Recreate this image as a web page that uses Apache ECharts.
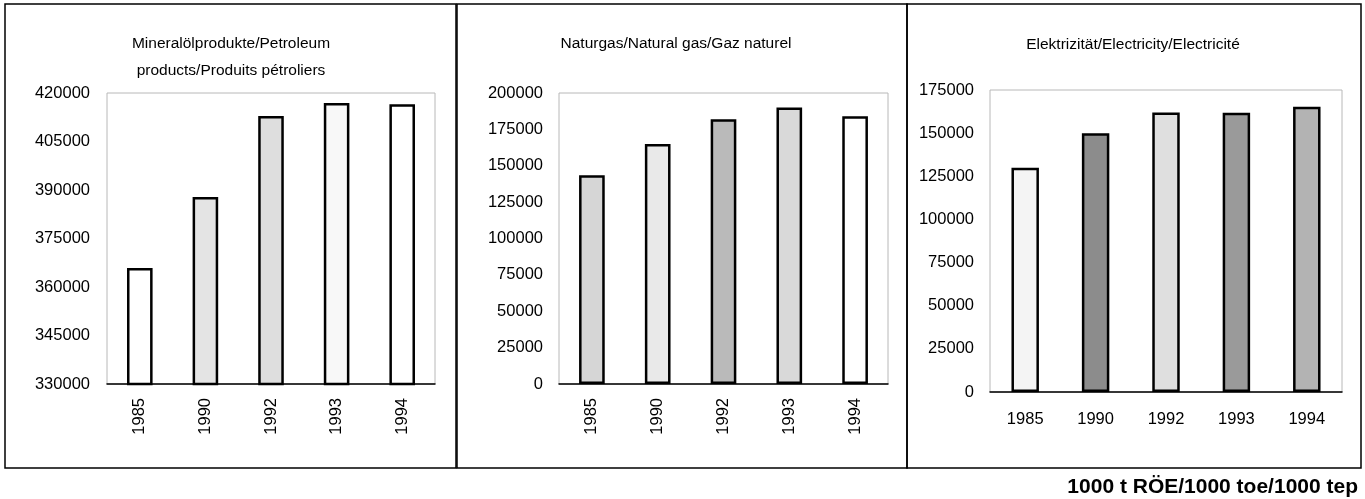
<!DOCTYPE html>
<html>
<head>
<meta charset="utf-8">
<script src="https://cdn.jsdelivr.net/npm/echarts@6/dist/echarts.min.js"></script>
<style>
  html, body { margin: 0; padding: 0; background: #fff; }
  #chart { width: 1365px; height: 499px; }
</style>
</head>
<body>
<div id="chart"></div>
<script>
// categories and values (1000 t RÖE)
const years = ['1985', '1990', '1992', '1993', '1994']
const petroleum = [365900, 387800, 412900, 416900, 416500]
const naturalGas = [143500, 165000, 182000, 190000, 184000]
const electricity = [130000, 150000, 162000, 161800, 165300]

const titles = [
  'Mineralölprodukte/Petroleum\nproducts/Produits pétroliers',
  'Naturgas/Natural gas/Gaz naturel',
  'Elektrizität/Electricity/Electricité'
]
const unitLabel = '1000 t RÖE/1000 toe/1000 tep'

// axis ranges [min, max, interval]
const petroleumAxis = [330000, 420000, 15000]
const gasAxis = [0, 200000, 25000]
const electricityAxis = [0, 175000, 25000]

// grey tones standing in for the stippled fills of the print
const petroleumFill = ['#ffffff', '#e4e4e4', '#dedede', '#f8f8f8', '#ffffff']
const gasFill = ['#d6d6d6', '#e9e9e9', '#bababa', '#d9d9d9', '#ffffff']
const electricityFill = ['#f4f4f4', '#8c8c8c', '#dfdfdf', '#9a9a9a', '#b3b3b3']

const font = 'Liberation Sans, Arial, sans-serif'
const chart = echarts.init(document.getElementById('chart'))

const grids = [
  { left: 107, top: 93, width: 328, height: 291 },
  { left: 559, top: 93, width: 329, height: 291 },
  { left: 990, top: 90, width: 352, height: 302 }
].map(g => ({ ...g, show: true, borderColor: '#b8b8b8', borderWidth: 1, containLabel: false }))

function xAxisFor(i, rotate, margin) {
  return {
    type: 'category',
    gridIndex: i,
    data: years,
    axisLine: { lineStyle: { color: '#000', width: 1.5 } },
    axisTick: { show: false },
    axisLabel: { color: '#000', fontFamily: font, fontSize: 16.5, rotate: rotate, margin: margin }
  }
}

function yAxisFor(i, range, margin) {
  return {
    type: 'value',
    gridIndex: i,
    min: range[0],
    max: range[1],
    interval: range[2],
    axisLine: { show: false },
    axisTick: { show: false },
    splitLine: { show: false },
    axisLabel: {
      color: '#000', fontFamily: font, fontSize: 16.5, margin: margin,
      formatter: v => String(v)
    }
  }
}

function barSeries(i, values, fills) {
  return {
    type: 'bar',
    xAxisIndex: i,
    yAxisIndex: i,
    barWidth: '39%',
    data: values.map((v, k) => ({
      value: v,
      itemStyle: { color: fills[k], borderColor: '#000', borderWidth: 2.5 }
    }))
  }
}

const titleX = [231, 676, 1133]
const titleTop = [30, 30, 31]

chart.setOption({
  animation: false,
  title: titles.map((t, i) => ({
    text: t,
    left: titleX[i],
    top: titleTop[i],
    textAlign: 'center',
    padding: 0,
    textStyle: { fontFamily: font, fontSize: 15.5, fontWeight: 'normal', color: '#000', lineHeight: 27 }
  })),
  grid: grids,
  xAxis: [xAxisFor(0, 90, 14), xAxisFor(1, 90, 14), xAxisFor(2, 0, 19)],
  yAxis: [yAxisFor(0, petroleumAxis, 17), yAxisFor(1, gasAxis, 16), yAxisFor(2, electricityAxis, 16)],
  series: [
    barSeries(0, petroleum, petroleumFill),
    barSeries(1, naturalGas, gasFill),
    barSeries(2, electricity, electricityFill)
  ],
  graphic: [
    { type: 'rect', shape: { x: 5, y: 4, width: 451, height: 464 }, style: { fill: 'none', stroke: '#000', lineWidth: 1.5 }, silent: true },
    { type: 'rect', shape: { x: 457, y: 4, width: 450, height: 464 }, style: { fill: 'none', stroke: '#000', lineWidth: 1.5 }, silent: true },
    { type: 'rect', shape: { x: 907, y: 4, width: 454, height: 464 }, style: { fill: 'none', stroke: '#000', lineWidth: 1.5 }, silent: true },
    {
      type: 'text', x: 1358, y: 487,
      style: { text: unitLabel, align: 'right', verticalAlign: 'middle', fill: '#000', font: 'bold 21px Liberation Sans, Arial, sans-serif' },
      silent: true
    }
  ]
})
</script>
</body>
</html>
